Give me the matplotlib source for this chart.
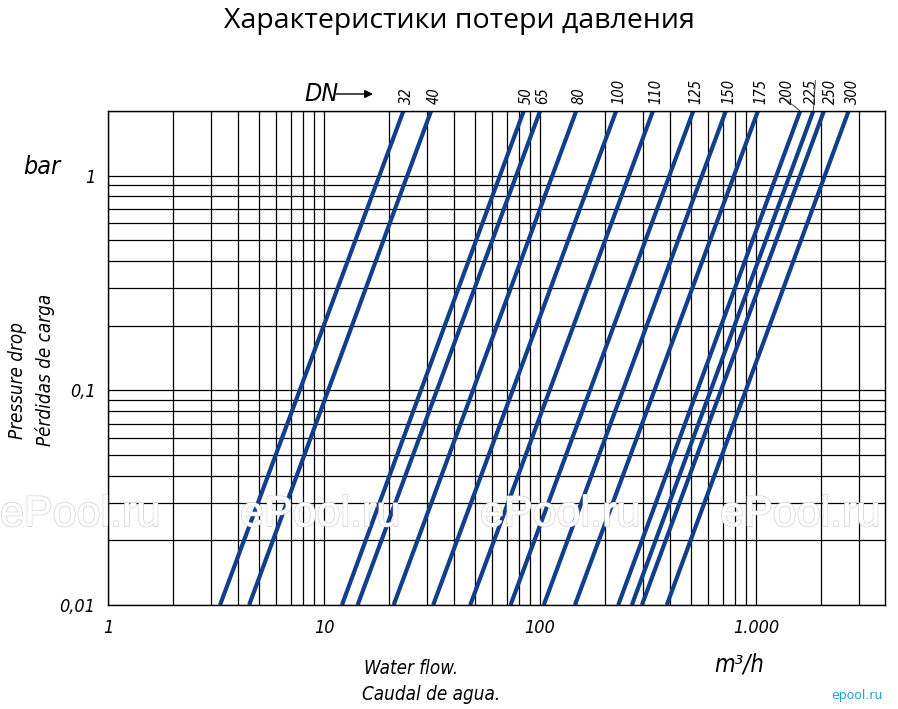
import matplotlib
matplotlib.use('Agg')
import matplotlib.pyplot as plt
import matplotlib.patheffects as pe
from matplotlib.transforms import blended_transform_factory, offset_copy

# nominal diameters and where each line crosses the bottom (0.01 bar) and top (2 bar)
dn = [32, 40, 50, 65, 80, 100, 110, 125, 150, 175, 200, 225, 250, 300]
flow_at_bottom = [3.3, 4.5, 12.1, 14.3, 21, 32, 47.5, 73, 104, 145, 230, 266, 296, 386]
flow_at_top = [23.3, 31.3, 84, 100, 147, 225, 333, 512, 724, 1020, 1600, 1840, 2060, 2680]
p_bottom = 0.01
p_top = 2.0

x_ticks = [1, 10, 100, 1000]
x_tick_labels = ['1', '10', '100', '1.000']
y_ticks = [0.01, 0.1, 1]
y_tick_labels = ['0,01', '0,1', '1']

LINE_BLUE = '#123f8c'
TECH = dict(family=['DejaVu Sans'], stretch='condensed', style='italic')

W, H = 898, 709
fig = plt.figure(figsize=(W / 100, H / 100), dpi=100)
ax = fig.add_axes([108 / W, 1 - 605 / H, (885 - 108) / W, (605 - 111) / H])
ax.set_xscale('log')
ax.set_yscale('log')
ax.set_xlim(1, 3950)
ax.set_ylim(p_bottom, p_top)

ax.grid(which='both', color='black', lw=0.9)
ax.set_axisbelow(True)
for s in ax.spines.values():
    s.set_color('black')
    s.set_linewidth(1.0)

ax.set_xticks(x_ticks, x_tick_labels)
ax.set_yticks(y_ticks, y_tick_labels)
ax.tick_params(which='both', length=0)
ax.tick_params(axis='x', pad=10)
ax.tick_params(axis='y', pad=9)
for lab in ax.get_xticklabels() + ax.get_yticklabels():
    lab.set_family(TECH['family'])
    lab.set_stretch('condensed')
    lab.set_style('italic')
    lab.set_fontsize(13)

for q0, q1 in zip(flow_at_bottom, flow_at_top):
    ax.plot([q0, q1], [p_bottom, p_top], color=LINE_BLUE, lw=3.0,
            solid_capstyle='butt')

# DN labels above the plot
trans = blended_transform_factory(ax.transData, ax.transAxes)
nudge = {200: -13, 225: -2, 250: 7, 300: 4}
for d, q1 in zip(dn, flow_at_top):
    t = offset_copy(trans, fig=fig, x=nudge.get(d, 3) * 0.72, y=5, units='points')
    ax.text(q1, 1.0, str(d), transform=t, rotation=90, ha='center', va='bottom',
            fontsize=10.5, **TECH)

# leader lines for 200 and 225
ax.annotate('', xy=(flow_at_top[10], 1.0), xycoords=trans,
            xytext=(-10, 8), textcoords='offset points',
            arrowprops=dict(arrowstyle='-', lw=0.7, color='#444444',
                            shrinkA=0, shrinkB=0))
ax.annotate('', xy=(flow_at_top[11], 1.0), xycoords=trans,
            xytext=(1.5, 22), textcoords='offset points',
            arrowprops=dict(arrowstyle='-', lw=0.7, color='#444444',
                            shrinkA=0, shrinkB=0))

# DN arrow
fig.text(304 / W, 1 - 94 / H, 'DN', fontsize=18, ha='left', va='center', **TECH)
ax.annotate('', xy=(373 / W, 1 - 94 / H), xycoords='figure fraction',
            xytext=(336 / W, 1 - 94 / H), textcoords='figure fraction',
            arrowprops=dict(arrowstyle='-|>', lw=1.0, color='black',
                            mutation_scale=12, shrinkA=0, shrinkB=0))

# axis captions
fig.text(42 / W, 1 - 167 / H, 'bar', fontsize=18, ha='center', va='center', **TECH)
fig.text(18 / W, 1 - 380 / H, 'Pressure drop', fontsize=13.5, rotation=90,
         ha='center', va='center', **TECH)
fig.text(45 / W, 1 - 370 / H, 'Pérdidas de carga', fontsize=13.5, rotation=90,
         ha='center', va='center', **TECH)
fig.text(364 / W, 1 - 668 / H, 'Water flow.', fontsize=13.5,
         ha='left', va='center', **TECH)
fig.text(362 / W, 1 - 695 / H, 'Caudal de agua.', fontsize=13.5,
         ha='left', va='center', **TECH)
fig.text(714 / W, 1 - 665 / H, 'm³/h', fontsize=17, ha='left', va='center', **TECH)

fig.text(459 / W, 1 - 21 / H, 'Характеристики потери давления', fontsize=20.5,
         family=['Open Sans', 'DejaVu Sans'], ha='center', va='center')

# watermarks
for cx in [80, 320, 560, 800]:
    fig.text(cx / W, 1 - 515 / H, 'ePool.ru', fontsize=31,
             family=['Liberation Sans', 'DejaVu Sans'], color='white',
             ha='center', va='center', zorder=5,
             path_effects=[pe.withStroke(linewidth=1.2, foreground='#d0d0d0'),
                           pe.Normal()])
fig.text(857 / W, 1 - 695 / H, 'epool.ru', fontsize=9, color='#1aa6d6',
         family=['DejaVu Sans'], ha='center', va='center')

fig.savefig('out.png', dpi=100)
